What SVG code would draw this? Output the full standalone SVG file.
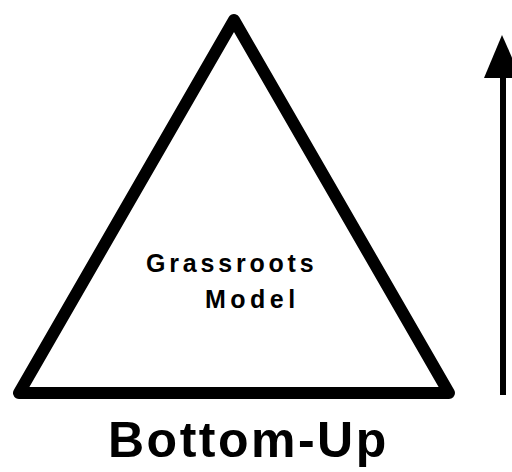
<svg xmlns="http://www.w3.org/2000/svg" width="512" height="472" viewBox="0 0 512 472">
<style>
.lbl{font-family:"Liberation Sans",Arial,sans-serif;font-weight:bold;fill:#000}
</style>
<rect width="512" height="472" fill="#fff"/>
<g id="triangle">
<polygon points="234,20 19,393 449,393" fill="none" stroke="#000" stroke-width="12" stroke-linejoin="round"/>
<text class="lbl" x="146" y="272" font-size="25" letter-spacing="3.8">Grassroots</text>
<text class="lbl" x="205" y="308" font-size="25" letter-spacing="4.5">Model</text>
</g>
<g id="connectors">
<line x1="503" y1="395" x2="503" y2="76" stroke="#000" stroke-width="6"/>
<polygon points="502,35 484,78 521,78" fill="#000"/>
</g>
<g id="caption">
<text class="lbl" x="108" y="457" font-size="50" letter-spacing="2.5">Bottom-Up</text>
</g>
</svg>
